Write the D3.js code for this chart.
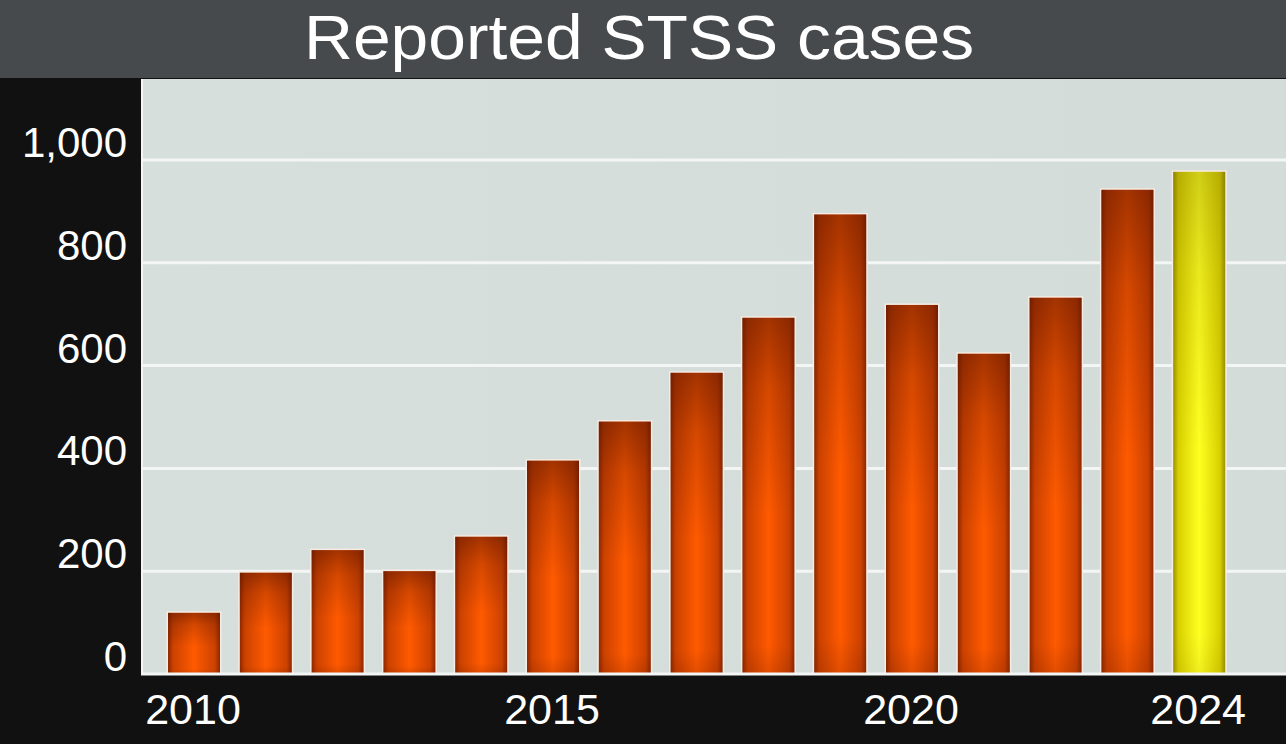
<!DOCTYPE html>
<html>
<head>
<meta charset="utf-8">
<script src="https://cdn.jsdelivr.net/npm/d3@7"></script>
<style>
  html, body { margin: 0; padding: 0; background: #111; }
  svg { display: block; }
  text { font-family: "Liberation Sans", Arial, Helvetica, sans-serif; }
</style>
</head>
<body>
<svg id="chart" width="1286" height="744"></svg>
<script>
// ---- data ----
const years = [2010, 2011, 2012, 2013, 2014, 2015, 2016, 2017, 2018, 2019, 2020, 2021, 2022, 2023, 2024];
const cases = [119, 197, 241, 200, 267, 415, 491, 586, 693, 894, 718, 623, 732, 942, 977];
const highlightYears = [2024];
const yTicks = [0, 200, 400, 600, 800, 1000];
const xTickLabels = [2010, 2015, 2020, 2024];
const title = "Reported STSS cases";

const W = 1286, H = 744;
const svg = d3.select("#chart");

// layout
const plotLeft = 141, plotTop = 79, plotBottom = 674;

const x = d3.scaleBand()
  .domain(years)
  .range([158.1, 158.1 + 15 * 71.8])
  .paddingInner(0.276)
  .paddingOuter(0.138);

const y = d3.scaleLinear().domain([0, 1000]).range([674, 160]);

// gradients
const defs = svg.append("defs");
function barGrad(id, stops) {
  const g = defs.append("linearGradient").attr("id", id)
    .attr("x1", "0").attr("x2", "1").attr("y1", "0").attr("y2", "0");
  stops.forEach(s => g.append("stop").attr("offset", s[0]).attr("stop-color", s[1]));
}
barGrad("gOrange", [["0%", "#8e2800"], ["10%", "#cc4200"], ["50%", "#ff5a00"], ["90%", "#cc4200"], ["100%", "#8e2800"]]);
barGrad("gYellow", [["0%", "#9a9200"], ["10%", "#d8d000"], ["50%", "#ffff22"], ["90%", "#d8d000"], ["100%", "#9a9200"]]);
function topGrad(id, col, k) {
  const g = defs.append("linearGradient").attr("id", id)
    .attr("x1", "0").attr("x2", "0").attr("y1", "0").attr("y2", "1");
  [["0%", 0.55], ["20%", 0.25], ["55%", 0.0], ["92%", 0.0], ["100%", 0.18]].forEach(s =>
    g.append("stop").attr("offset", s[0]).attr("stop-color", col).attr("stop-opacity", s[1] * k));
}
topGrad("tOrange", "#5a1400", 1);
topGrad("tYellow", "#6a5e00", 0.55);

const bgGrad = defs.append("linearGradient").attr("id", "bg")
  .attr("x1", "0").attr("x2", "1").attr("y1", "0").attr("y2", "0");
bgGrad.append("stop").attr("offset", "0%").attr("stop-color", "#d6dfdc");
bgGrad.append("stop").attr("offset", "100%").attr("stop-color", "#d3dcd9");

// backgrounds
svg.append("rect").attr("x", 0).attr("y", 0).attr("width", W).attr("height", H).attr("fill", "#111111");
svg.append("rect").attr("x", plotLeft).attr("y", plotTop).attr("width", W - plotLeft).attr("height", plotBottom - plotTop)
  .attr("fill", "url(#bg)");
svg.append("rect").attr("x", 0).attr("y", 0).attr("width", W).attr("height", 78).attr("fill", "#474a4c");

// title
svg.append("text")
  .attr("x", 639).attr("y", 59)
  .attr("text-anchor", "middle")
  .attr("fill", "#ffffff")
  .attr("font-size", 63)
  .attr("textLength", 670)
  .attr("lengthAdjust", "spacingAndGlyphs")
  .text(title);

// gridlines
svg.append("g").selectAll("line")
  .data(yTicks.filter(d => d > 0))
  .join("line")
  .attr("x1", plotLeft).attr("x2", W)
  .attr("y1", d => y(d)).attr("y2", d => y(d))
  .attr("stroke", "#f4f6f5").attr("stroke-width", 3);

// y labels
svg.append("g").selectAll("text")
  .data(yTicks)
  .join("text")
  .attr("x", 127)
  .attr("y", d => y(d) - 3)
  .attr("text-anchor", "end")
  .attr("fill", "#ffffff")
  .attr("font-size", 42)
  .text(d => d3.format(",")(d));

// bars
const bars = svg.append("g");
const data = years.map((yr, i) => ({ year: yr, value: cases[i], hi: highlightYears.includes(yr) }));

bars.selectAll("rect.halo")
  .data(data)
  .join("rect")
  .attr("class", "halo")
  .attr("x", d => x(d.year) - 1.5)
  .attr("y", d => y(d.value) - 1.5)
  .attr("width", x.bandwidth() + 3)
  .attr("height", d => y(0) - y(d.value) + 1.5)
  .attr("fill", "#f6ece4");

bars.selectAll("rect.bar")
  .data(data)
  .join("rect")
  .attr("class", "bar")
  .attr("x", d => x(d.year))
  .attr("y", d => y(d.value))
  .attr("width", x.bandwidth())
  .attr("height", d => y(0) - y(d.value))
  .attr("fill", d => d.hi ? "url(#gYellow)" : "url(#gOrange)");

bars.selectAll("rect.shade")
  .data(data)
  .join("rect")
  .attr("class", "shade")
  .attr("x", d => x(d.year))
  .attr("y", d => y(d.value))
  .attr("width", x.bandwidth())
  .attr("height", d => y(0) - y(d.value))
  .attr("fill", d => d.hi ? "url(#tYellow)" : "url(#tOrange)");

// axis lines
svg.append("line").attr("x1", plotLeft).attr("x2", W).attr("y1", 674).attr("y2", 674)
  .attr("stroke", "#f4f6f5").attr("stroke-width", 3);
svg.append("line").attr("x1", plotLeft + 1).attr("x2", plotLeft + 1).attr("y1", plotTop).attr("y2", 675)
  .attr("stroke", "#f4f6f5").attr("stroke-width", 2);

// x labels
svg.append("g").selectAll("text")
  .data(xTickLabels)
  .join("text")
  .attr("x", d => x(d) + x.bandwidth() / 2 - 1)
  .attr("y", 724)
  .attr("text-anchor", "middle")
  .attr("fill", "#ffffff")
  .attr("font-size", 43)
  .text(d => d);
</script>
</body>
</html>
